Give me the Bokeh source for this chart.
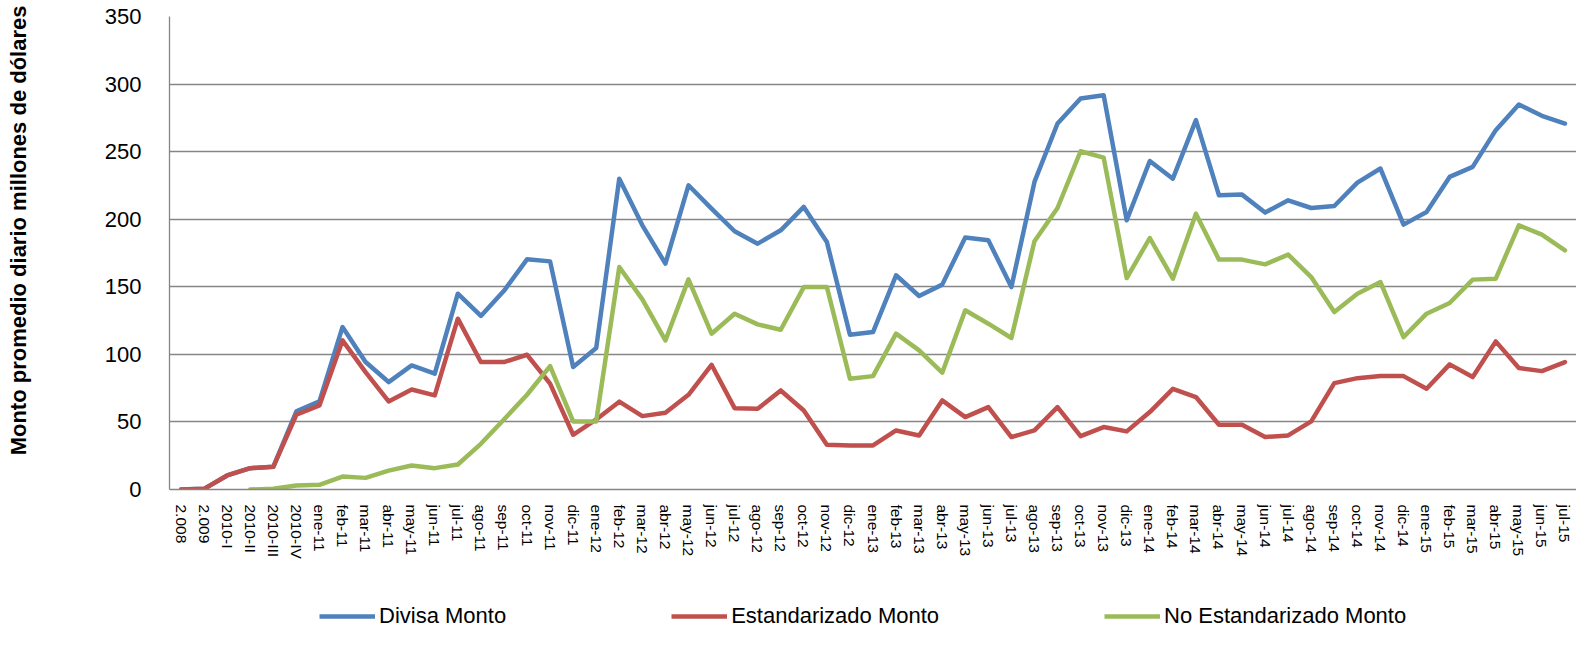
from bokeh.plotting import figure
from bokeh.layouts import column
from bokeh.models import (FactorRange, Range1d, FixedTicker, Legend, LegendItem, Title)
from bokeh.embed import file_html
from bokeh.resources import INLINE

categories = ["2.008", "2.009", "2010-I", "2010-II", "2010-III", "2010-IV",
              "ene-11", "feb-11", "mar-11", "abr-11", "may-11", "jun-11",
              "jul-11", "ago-11", "sep-11", "oct-11", "nov-11", "dic-11",
              "ene-12", "feb-12", "mar-12", "abr-12", "may-12", "jun-12",
              "jul-12", "ago-12", "sep-12", "oct-12", "nov-12", "dic-12",
              "ene-13", "feb-13", "mar-13", "abr-13", "may-13", "jun-13",
              "jul-13", "ago-13", "sep-13", "oct-13", "nov-13", "dic-13",
              "ene-14", "feb-14", "mar-14", "abr-14", "may-14", "jun-14",
              "jul-14", "ago-14", "sep-14", "oct-14", "nov-14", "dic-14",
              "ene-15", "feb-15", "mar-15", "abr-15", "may-15", "jun-15",
              "jul-15"]

divisa = [0, 0.5, 10.4, 15.8, 16.8, 57.8,
          65.2, 120.2, 94.3, 79.5, 91.8, 85.7,
          144.9, 128.4, 147, 170.3, 168.8, 90.6,
          104.7, 230, 195.5, 167.1, 225.1, 207.8,
          191.1, 181.9, 191.8, 209.1, 183.2, 114.5,
          116.5, 158.5, 143.2, 151.6, 186.4, 184.4,
          149.8, 227.6, 270.8, 289.3, 291.8, 199.2,
          243.1, 230, 273.3, 217.7, 218.2, 204.9,
          214, 208.3, 209.8, 227.1, 237.5, 196,
          205.4, 231.3, 238.7, 265.9, 284.9, 276.5,
          270.8]

estandarizado = [0, 0.5, 10.4, 15.8, 16.8, 55.3,
                 62.2, 110.3, 86.9, 65.2, 74, 69.6,
                 126.4, 94.3, 94.3, 99.7, 78.3, 40.5,
                 51.8, 65, 54.3, 56.8, 70.1, 92.3,
                 60.2, 59.7, 73.3, 58.5, 33.1, 32.6,
                 32.6, 43.7, 40, 65.9, 53.6, 61,
                 38.8, 43.7, 61, 39.5, 46.2, 43,
                 57.3, 74.5, 68.4, 47.9, 47.9, 38.8,
                 40, 50.4, 78.7, 82.4, 83.9, 83.9,
                 74.5, 92.6, 83.2, 109.6, 89.9, 87.6,
                 94.3]

no_estandarizado = [float("nan"), float("nan"), float("nan"), 0, 0.5, 3,
                    3.5, 9.6, 8.6, 14, 17.8, 15.8,
                    18.5, 33.8, 51.8, 70.1, 91.3, 50.4,
                    50.4, 164.6, 140.7, 110.3, 155.5, 115.3,
                    130.1, 122.2, 118.2, 149.8, 149.8, 82,
                    83.9, 115.3, 102.9, 86.4, 132.6, 122.7,
                    112.1, 183.7, 208.3, 250.3, 245.6, 156.5,
                    186.1, 156, 204.1, 170.1, 170.1, 166.6,
                    173.8, 157.2, 131.3, 144.9, 153.5, 112.8,
                    130.1, 138, 155.3, 156, 195.5, 188.6,
                    177]

series_names = ["Divisa Monto", "Estandarizado Monto", "No Estandarizado Monto"]
series_colors = ["#4F81BD", "#C0504D", "#9BBB59"]
y_ticks = [0, 50, 100, 150, 200, 250, 300, 350]
y_title = "Monto promedio diario millones de dólares"

FONT = "Liberation Sans"
LW = 4.5
series_values = [divisa, estandarizado, no_estandarizado]

p = figure(width=1576, height=600, output_backend="svg", toolbar_location=None,
           x_range=FactorRange(*categories, range_padding=0),
           y_range=Range1d(0, 350),
           min_border_left=169, min_border_right=0,
           min_border_top=16, min_border_bottom=111)
p.outline_line_color = None
p.background_fill_color = "white"
p.border_fill_color = "white"

p.xgrid.grid_line_color = None
p.ygrid.grid_line_color = "#868686"
p.ygrid.grid_line_width = 1.3
p.yaxis.ticker = FixedTicker(ticks=y_ticks)

for ax in (p.xaxis[0], p.yaxis[0]):
    ax.axis_line_color = "#868686"
    ax.axis_line_width = 1.3
    ax.major_tick_line_color = None
    ax.minor_tick_line_color = None
    ax.major_tick_out = 0
    ax.major_tick_in = 0
    ax.major_label_text_font = FONT
    ax.major_label_text_color = "#000000"

# invisible spacer label on the y axis, reserves room for the title at far left
p.yaxis.axis_label = " "
p.yaxis.axis_label_text_font_size = "10px"
p.yaxis.axis_label_standoff = 50
p.yaxis.major_label_text_font_size = "22px"
p.yaxis.major_label_standoff = 28
p.xaxis.major_label_text_font_size = "15.5px"
p.xaxis.major_label_orientation = "vertical"
p.xaxis.major_label_standoff = 15

for vals, col in zip(series_values, series_colors):
    p.line(x=categories, y=vals, line_color=col, line_width=LW,
           line_join="round", line_cap="round")

title = Title(text=y_title, align="right", offset=-11, vertical_align="top",
              standoff=10, text_font=FONT, text_font_style="bold",
              text_font_size="22px", text_color="#000000")
p.add_layout(title, "left")

# legend strip below the chart (its series sit outside its visible y range)
q = figure(width=1576, height=29, output_backend="svg", toolbar_location=None,
           x_range=FactorRange(*categories, range_padding=0),
           y_range=Range1d(1000, 1001),
           x_axis_location=None, y_axis_location=None,
           min_border_left=169, min_border_right=0, min_border_top=0, min_border_bottom=0)
q.outline_line_color = None
q.grid.visible = False
q.background_fill_color = "white"
q.border_fill_color = "white"
key_renderers = [q.line(x=categories, y=vals, line_color=col, line_width=LW)
                 for vals, col in zip(series_values, series_colors)]

legend = Legend(items=[LegendItem(label=n, renderers=[r]) for n, r in zip(series_names, key_renderers)],
                orientation="horizontal", location=(150, 0),
                label_text_font=FONT, label_text_font_size="22px",
                label_text_color="#000000", label_height=24,
                glyph_width=56, glyph_height=24, label_standoff=4, spacing=165,
                padding=0, margin=0, border_line_color=None,
                background_fill_alpha=0)
q.add_layout(legend)

layout = column(p, q, spacing=0)
open("out.html", "w").write(file_html(layout, INLINE))
